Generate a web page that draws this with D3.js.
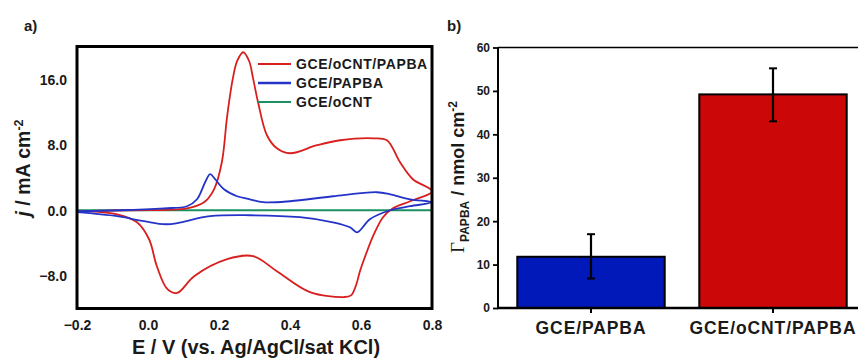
<!DOCTYPE html>
<html><head><meta charset="utf-8">
<script src="https://cdn.jsdelivr.net/npm/d3@7"></script>
<style>
body{margin:0;background:#fff;}
svg text{font-family:Arial,"Liberation Sans",sans-serif;font-weight:bold;fill:#1a1a1a;}
</style></head>
<body><svg id="c" width="858" height="358"></svg>
<script>
// ---------- Panel a) data: CV curves (E in V, j in mA cm^-2) ----------
const redE = [-0.2,-0.05,0.11,0.158,0.186,0.208,0.223,0.239,0.251,0.268,0.285,0.296,0.31,0.335,0.363,0.4,0.476,0.541,0.634,0.673,0.71,0.746,0.8,
              0.738,0.69,0.662,0.634,0.614,0.597,0.586,0.572,0.552,0.456,0.363,0.296,0.223,0.13,0.082,0.054,0.025,0.003,-0.031,-0.087,-0.172,-0.2];
const redJ = [-0.12,0,0.24,0.98,2.56,5.86,11.5,16.1,18.2,19.3,18.2,16.1,13.2,9.16,7.57,6.96,7.94,8.55,8.79,8.55,5.86,3.79,2.32,
              1.1,0.24,-0.85,-3.17,-5.37,-7.45,-9.16,-10.4,-10.6,-10.0,-7.45,-5.6,-5.98,-8.06,-10.1,-9.6,-6.84,-3.54,-1.47,-0.49,-0.12,-0.12];
const blueE = [-0.2,-0.079,0.045,0.11,0.138,0.161,0.175,0.189,0.214,0.251,0.287,0.324,0.4,0.521,0.645,0.682,0.738,0.8,
               0.738,0.682,0.625,0.589,0.569,0.521,0.428,0.287,0.175,0.054,-0.011,-0.087,-0.2];
const blueJ = [-0.1,0,0.24,0.49,1.34,3.42,4.4,3.79,2.56,1.71,1.34,0.98,1.1,1.71,2.2,1.95,1.34,0.98,
               0.49,0,-1.1,-2.69,-2.08,-1.47,-0.85,-0.61,-0.73,-1.71,-1.34,-0.73,-0.24];
const greenE = [-0.2,0.0,0.2,0.4,0.6,0.8];
const greenJ = [0.0,0.0,0.0,0.0,0.0,0.0];
const seriesNames = ["GCE/oCNT/PAPBA","GCE/PAPBA","GCE/oCNT"];
const seriesColors = ["#d91e1e","#2434c8","#1b9060"];
const xTicksA = [-0.2,0.0,0.2,0.4,0.6,0.8];
const yTicksA = [-8,0,8,16];

// ---------- Panel b) data: surface coverage ----------
const barCats = ["GCE/PAPBA","GCE/oCNT/PAPBA"];
const barVals = [11.8,49.2];
const barLow = [6.8,43.0];
const barHigh = [17.0,55.2];
const barColors = ["#0219b9","#cc0707"];
const yTicksB = [0,10,20,30,40,50,60];

const svg = d3.select("#c");

// ===== Panel a =====
const xA = d3.scaleLinear().domain([-0.2,0.8]).range([77,432]);
const yA = d3.scaleLinear().domain([-12,20]).range([308.5,46.5]);
const gA = svg.append("g");
const line = d3.line().x(d=>xA(d[0])).y(d=>yA(d[1])).curve(d3.curveCatmullRom.alpha(0.5));
const curves = [
  d3.zip(greenE,greenJ),
  d3.zip(redE,redJ),
  d3.zip(blueE,blueJ)
];
const curveColors = [seriesColors[2],seriesColors[0],seriesColors[1]];
gA.append("defs").append("clipPath").attr("id","clipA").append("rect")
  .attr("x",77).attr("y",46.5).attr("width",355).attr("height",262);
curves.forEach((c,i)=>{
  gA.append("path").attr("d",line(c)).attr("fill","none")
    .attr("stroke",curveColors[i]).attr("stroke-width",i===0?2.2:1.8)
    .attr("clip-path","url(#clipA)");
});
// frame
gA.append("rect").attr("x",77).attr("y",46.5).attr("width",355).attr("height",262)
  .attr("fill","none").attr("stroke","#000").attr("stroke-width",3);
// axes
const axXA = gA.append("g").attr("transform","translate(0,308.5)")
  .call(d3.axisBottom(xA).tickValues(xTicksA).tickSize(0).tickPadding(12).tickFormat(d3.format(".1f")));
axXA.select(".domain").remove();
axXA.selectAll("text").attr("font-size",14).style("font-family","Arial").style("font-weight","bold");
const axYA = gA.append("g").attr("transform","translate(77,0)")
  .call(d3.axisLeft(yA).tickValues(yTicksA).tickSize(0).tickPadding(10).tickFormat(d3.format(".1f")));
axYA.select(".domain").remove();
axYA.selectAll("text").attr("font-size",14).attr("dy","0.35em").style("font-family","Arial").style("font-weight","bold");

// legend
seriesNames.forEach((n,i)=>{
  const y = 64 + i*19;
  gA.append("line").attr("x1",258).attr("x2",291).attr("y1",y).attr("y2",y)
    .attr("stroke",seriesColors[i]).attr("stroke-width",i===1?2.5:1.8);
  gA.append("text").attr("x",296).attr("y",y+5).attr("font-size",14)
    .attr("letter-spacing","0.6").text(n);
});
// titles
gA.append("text").attr("x",256).attr("y",354).attr("text-anchor","middle")
  .attr("font-size",20).text("E / V (vs. Ag/AgCl/sat KCl)");
const ylA = gA.append("text").attr("transform","translate(30,168) rotate(-90)")
  .attr("text-anchor","middle").attr("font-size",19.5);
ylA.append("tspan").attr("font-style","italic").text("j");
ylA.append("tspan").text(" / mA cm");
ylA.append("tspan").attr("font-size",12.5).attr("dy",-7).text("-2");
gA.append("text").attr("x",24).attr("y",31).attr("font-size",15).text("a)");

// ===== Panel b =====
const xB = d3.scaleBand().domain(barCats).range([500,864]).paddingInner(0.19).paddingOuter(0.095);
const yB = d3.scaleLinear().domain([0,60]).range([308,47.5]);
const gB = svg.append("g");
// top line
gB.append("line").attr("x1",498).attr("x2",858).attr("y1",47.5).attr("y2",47.5)
  .attr("stroke","#000").attr("stroke-width",1.5);
// bars
gB.selectAll("rect.bar").data(barCats).join("rect").attr("class","bar")
  .attr("x",d=>xB(d)).attr("width",xB.bandwidth())
  .attr("y",(d,i)=>yB(barVals[i])).attr("height",(d,i)=>yB(0)-yB(barVals[i]))
  .attr("fill",(d,i)=>barColors[i]).attr("stroke","#000").attr("stroke-width",2);
// error bars
barCats.forEach((c,i)=>{
  const cx = xB(c)+xB.bandwidth()/2;
  gB.append("line").attr("x1",cx).attr("x2",cx).attr("y1",yB(barLow[i])).attr("y2",yB(barHigh[i]))
    .attr("stroke","#000").attr("stroke-width",2.2);
  [barLow[i],barHigh[i]].forEach(v=>{
    gB.append("line").attr("x1",cx-4).attr("x2",cx+4).attr("y1",yB(v)).attr("y2",yB(v))
      .attr("stroke","#000").attr("stroke-width",2);
  });
});
// axes
const axYB = gB.append("g").attr("transform","translate(498,0)")
  .call(d3.axisLeft(yB).tickValues(yTicksB).tickSize(5).tickPadding(3).tickFormat(d3.format("d")));
axYB.select(".domain").attr("stroke-width",2).attr("d","M0,47.5V308");
axYB.selectAll(".tick line").attr("stroke-width",1.8);
axYB.selectAll("text").attr("font-size",12).style("font-family","Arial").style("font-weight","bold");
const axXB = gB.append("g").attr("transform","translate(0,308)")
  .call(d3.axisBottom(xB).tickSize(5).tickPadding(9));
axXB.select(".domain").attr("stroke-width",2.5).attr("d","M497,0H858");
axXB.selectAll(".tick line").attr("stroke-width",2);
axXB.selectAll("text").attr("font-size",17.5).attr("letter-spacing","0.9").style("font-family","Arial").style("font-weight","bold");
// y title
const ylB = gB.append("text").attr("transform","translate(464,177) rotate(-90)")
  .attr("text-anchor","middle").attr("font-size",18);
ylB.append("tspan").style("font-family","'Liberation Serif','Times New Roman',serif").style("font-weight","normal").attr("font-size",19).text("Γ");
ylB.append("tspan").attr("font-size",12).attr("dy",5).text("PAPBA");
ylB.append("tspan").attr("dy",-5).text(" / nmol cm");
ylB.append("tspan").attr("font-size",12).attr("dy",-7).text("-2");
gB.append("text").attr("x",447).attr("y",31).attr("font-size",15).text("b)");
</script></body></html>
